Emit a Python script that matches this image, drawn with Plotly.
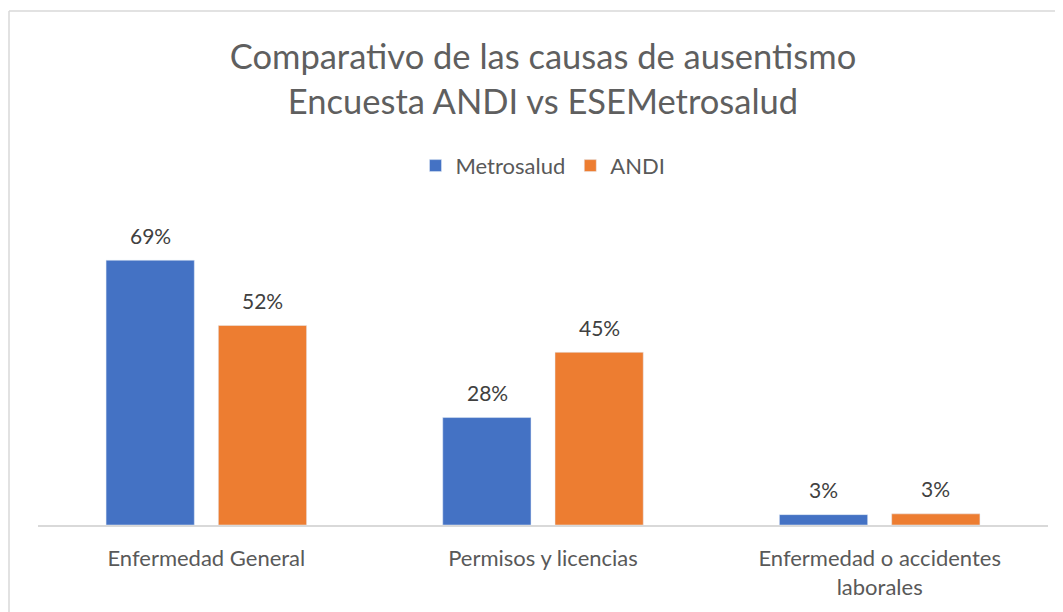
import plotly.graph_objects as go

categorias = ['Enfermedad General', 'Permisos y licencias', 'Enfermedad o accidentes<br>laborales']
metrosalud = [0.69, 0.28, 0.027]
andi = [0.52, 0.45, 0.029]

azul = '#4472C4'
naranja = '#ED7D31'
fuente = 'Lato, Carlito, Calibri, sans-serif'

fig = go.Figure()
fig.add_trace(go.Bar(x=categorias, y=metrosalud, name='Metrosalud', marker_color=azul))
fig.add_trace(go.Bar(x=categorias, y=andi, name='ANDI', marker_color=naranja))

# etiquetas de datos encima de cada barra
for serie, desplaz in [(metrosalud, -56), (andi, 56)]:
    for cat, val in zip(categorias, serie):
        fig.add_annotation(x=cat, y=val, text=f'{val:.0%}', showarrow=False,
                           xshift=desplaz, yshift=25,
                           font=dict(family=fuente, size=21, color='#404040'))

fig.update_layout(
    width=1063, height=612,
    paper_bgcolor='white', plot_bgcolor='white',
    margin=dict(l=30, r=23, t=210, b=95),
    barmode='group', bargap=0.333, bargroupgap=0.214,
    title=dict(text='Comparativo de las causas de ausentismo<br>Encuesta ANDI vs ESEMetrosalud',
               x=535 / 1063, xanchor='center', y=1 - 61 / 612, yanchor='top',
               font=dict(family=fuente, size=34.5, color='#5f5f5f')),
    legend=dict(orientation='h', x=0.5, xanchor='center', y=1.17, yanchor='middle',
                font=dict(family=fuente, size=22, color='#595959')),
    showlegend=True,
)
fig.update_xaxes(showline=True, linecolor='#D9D9D9', linewidth=1.5, ticks='',
                 ticklabelstandoff=13,
                 tickfont=dict(family=fuente, size=22, color='#595959'))
fig.update_yaxes(range=[0, 0.8], visible=False, showgrid=False)

# marco del grafico
fig.add_shape(type='line', xref='paper', yref='paper', x0=-29 / 1010, x1=1.1,
              y0=(525 - 11) / 307, y1=(525 - 11) / 307, line=dict(color='#D9D9D9', width=1.5))
fig.add_shape(type='line', xref='paper', yref='paper', x0=-29 / 1010, x1=-29 / 1010,
              y0=(525 - 11) / 307, y1=-0.5, line=dict(color='#D9D9D9', width=1.5))

fig.write_html('out.html')
